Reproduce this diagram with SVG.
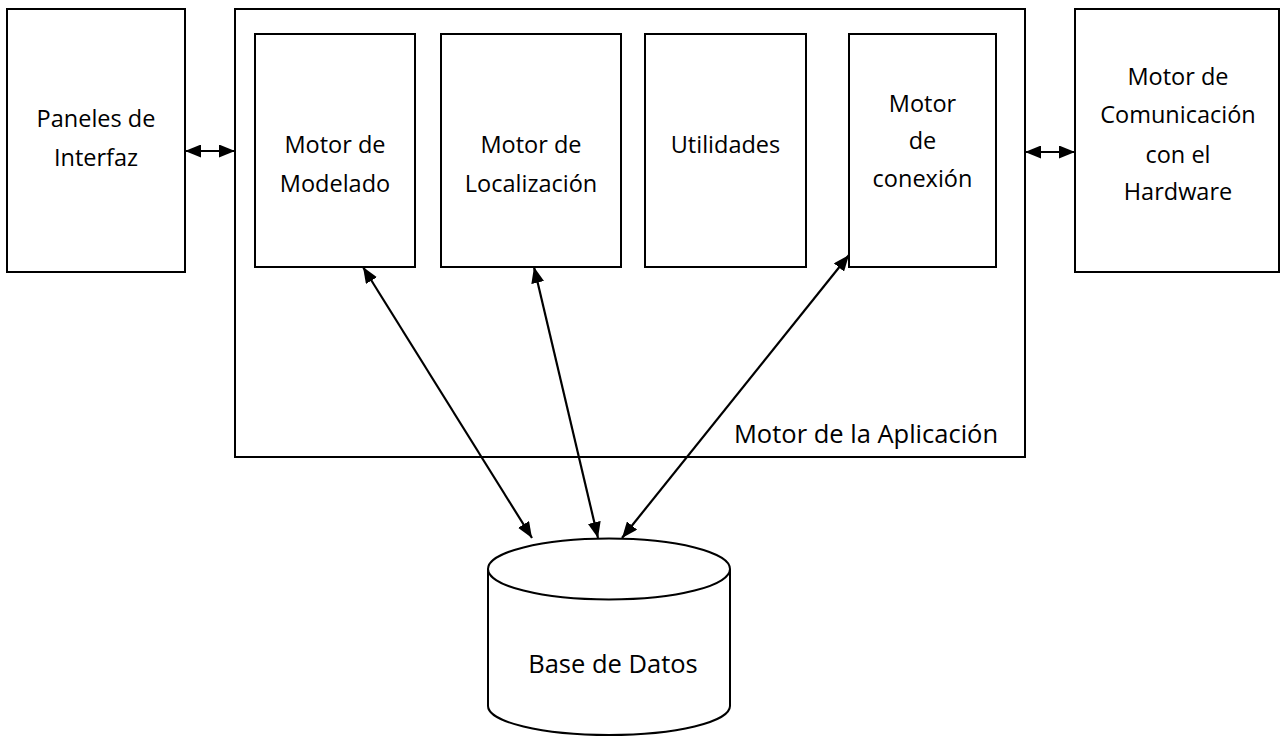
<svg xmlns="http://www.w3.org/2000/svg" width="1281" height="736" viewBox="0 0 1281 736">
  <style>
    .box { fill: #ffffff; stroke: #000000; stroke-width: 2; }
    .lbl { font-family: "Open Sans", "Liberation Sans", sans-serif; font-size: 23.5px; fill: #000000; text-anchor: middle; }
    .big { font-size: 25.5px; }
    .link { fill: none; stroke: #000000; stroke-width: 2.2; marker-start: url(#ah); marker-end: url(#ah); }
  </style>
  <defs>
    <marker id="ah" viewBox="0 0 16 13" refX="16" refY="6.5" markerWidth="16" markerHeight="13" markerUnits="userSpaceOnUse" orient="auto-start-reverse">
      <path d="M0,0 L16,6.5 L0,13 z" fill="#000000"/>
    </marker>
  </defs>
  <rect x="0" y="0" width="1281" height="736" fill="#ffffff"/>

  <!-- application engine container -->
  <g id="motor-aplicacion">
    <rect class="box" x="235" y="9" width="790" height="448"/>
    <text class="lbl big" x="866" y="443">Motor de la Aplicación</text>
  </g>

  <g id="paneles-interfaz">
    <rect class="box" x="7" y="9" width="178" height="263"/>
    <text class="lbl" x="96" y="127">Paneles de</text>
    <text class="lbl" x="96" y="166">Interfaz</text>
  </g>

  <g id="motor-modelado">
    <rect class="box" x="255" y="34" width="160" height="233"/>
    <text class="lbl" x="335" y="153">Motor de</text>
    <text class="lbl" x="335" y="192">Modelado</text>
  </g>

  <g id="motor-localizacion">
    <rect class="box" x="441" y="34" width="180" height="233"/>
    <text class="lbl" x="531" y="153">Motor de</text>
    <text class="lbl" x="531" y="192">Localización</text>
  </g>

  <g id="utilidades">
    <rect class="box" x="645" y="34" width="161" height="233"/>
    <text class="lbl" x="725.5" y="153">Utilidades</text>
  </g>

  <g id="motor-conexion">
    <rect class="box" x="849" y="34" width="147" height="233"/>
    <text class="lbl" x="922.5" y="112">Motor</text>
    <text class="lbl" x="922.5" y="149">de</text>
    <text class="lbl" x="922.5" y="187">conexión</text>
  </g>

  <g id="motor-comunicacion">
    <rect class="box" x="1075" y="9" width="204" height="263"/>
    <text class="lbl" x="1178" y="85">Motor de</text>
    <text class="lbl" x="1178" y="123">Comunicación</text>
    <text class="lbl" x="1178" y="163">con el</text>
    <text class="lbl" x="1178" y="200">Hardware</text>
  </g>

  <!-- database cylinder -->
  <g id="base-datos">
    <path class="box" d="M488,569 L488,706 A121,29 0 0 0 730,706 L730,569"/>
    <ellipse class="box" cx="609" cy="569" rx="121" ry="30.5"/>
    <text class="lbl big" x="613" y="673">Base de Datos</text>
  </g>

  <!-- connectors -->
  <g id="conectores">
    <line class="link" x1="185" y1="151" x2="235" y2="151"/>
    <line class="link" x1="1025" y1="152" x2="1075" y2="152"/>
    <line class="link" x1="363" y1="267" x2="532" y2="538"/>
    <line class="link" x1="534" y1="267" x2="598" y2="538"/>
    <line class="link" x1="849" y1="255" x2="622" y2="538"/>
  </g>
</svg>
